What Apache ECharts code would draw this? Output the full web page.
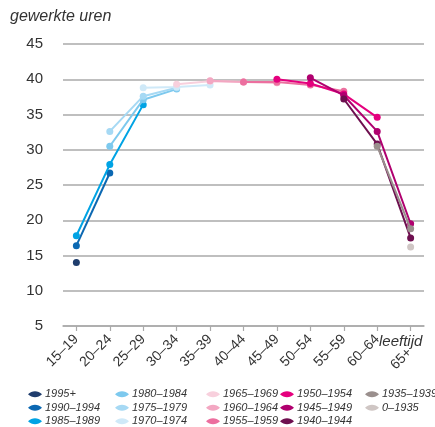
<!DOCTYPE html>
<html>
<head>
<meta charset="utf-8">
<script src="https://cdn.jsdelivr.net/npm/echarts@6/dist/echarts.min.js"></script>
<style>
  html, body { margin: 0; padding: 0; background: #fff; }
  #chart { width: 435px; height: 427px; }
</style>
</head>
<body>
<div id="chart"></div>
<script>
// leeftijdsklassen
const ageGroups = ['15–19', '20–24', '25–29', '30–34', '35–39', '40–44', '45–49', '50–54', '55–59', '60–64', '65+'];
const yTicks = [5, 10, 15, 20, 25, 30, 35, 40, 45];

// geboortecohorten, waarde per leeftijdsklasse (null = geen waarneming)
const cohortNames = ['1995+', '1990–1994', '1985–1989', '1980–1984', '1975–1979', '1970–1974',
  '1965–1969', '1960–1964', '1955–1959', '1950–1954', '1945–1949', '1940–1944', '1935–1939', '0–1935'];
const c1995 = [14.0, null, null, null, null, null, null, null, null, null, null];
const c1990 = [16.4, 26.7, null, null, null, null, null, null, null, null, null];
const c1985 = [17.8, 27.9, 36.4, null, null, null, null, null, null, null, null];
const c1980 = [null, 30.5, 37.1, 38.6, null, null, null, null, null, null, null];
const c1975 = [null, 32.6, 37.6, 38.8, null, null, null, null, null, null, null];
const c1970 = [null, null, 38.8, 38.9, 39.2, null, null, null, null, null, null];
const c1965 = [null, null, null, 39.3, 39.7, 39.6, null, null, null, null, null];
const c1960 = [null, null, null, null, 39.8, 39.6, 39.5, null, null, null, null];
const c1955 = [null, null, null, null, null, 39.6, 39.6, 39.2, 38.3, null, null];
const c1950 = [null, null, null, null, null, null, 40.0, 39.4, 37.9, 34.6, null];
const c1945 = [null, null, null, null, null, null, null, 40.2, 37.7, 32.6, 19.5];
const c1940 = [null, null, null, null, null, null, null, null, 37.2, 30.8, 17.5];
const c1935 = [null, null, null, null, null, null, null, null, null, 30.5, 18.8];
const c0000 = [null, null, null, null, null, null, null, null, null, null, 16.2];
const cohortValues = [c1995, c1990, c1985, c1980, c1975, c1970, c1965, c1960, c1955, c1950, c1945, c1940, c1935, c0000];

const colors = ['#1f3d6d', '#0b68b2', '#00a3e4', '#7dc9ee', '#a6d9f4', '#cfe9f8',
  '#f8d0dd', '#f3a7c2', '#ec6f9f', '#e5007e', '#b0006f', '#6e0f4f', '#9a8f8d', '#cfc6c4'];

const font = 'Liberation Sans, Arial, sans-serif';
const icon = 'path://M0,5 C4,1 10,1 14,5 C10,9 4,9 0,5 Z';

const series = cohortNames.map((name, k) => ({
  name: name,
  type: 'line',
  data: cohortValues[k].map((v, i) => v == null ? null : [i, v]).filter(d => d),
  symbol: 'circle',
  symbolSize: 7,
  color: colors[k],
  lineStyle: { width: 2, color: colors[k] },
  itemStyle: { color: colors[k] },
  emphasis: { disabled: true },
  z: 2 + k
}));

// legenda in 5 kolommen
const legendCols = [[0, 1, 2], [3, 4, 5], [6, 7, 8], [9, 10, 11], [12, 13]];
const legendLeft = [28, 115, 206, 280, 365];
const legends = legendCols.map((col, j) => ({
  orient: 'vertical',
  left: legendLeft[j],
  top: 388,
  height: 60,
  itemWidth: 14,
  itemHeight: 7,
  itemGap: 1,
  padding: 0,
  selectedMode: false,
  icon: icon,
  data: col.map(k => cohortNames[k]),
  textStyle: { fontFamily: font, fontStyle: 'italic', fontSize: 11, color: '#333', lineHeight: 12.5, padding: [0, 0, 0, -2] }
}));

const chart = echarts.init(document.getElementById('chart'));
chart.setOption({
  animation: false,
  backgroundColor: '#fff',
  grid: { left: 63, right: 11, top: 44, bottom: 101, containLabel: false },
  legend: legends,
  xAxis: {
    type: 'value',
    min: -0.4,
    max: 10.4,
    axisLine: { show: true, lineStyle: { color: '#aaa', width: 1.5 } },
    axisTick: { show: true, length: 5, lineStyle: { color: '#aaa', width: 1.2 }, customValues: ageGroups.map((_, i) => i) },
    splitLine: { show: false },
    axisLabel: {
      customValues: ageGroups.map((_, i) => i),
      formatter: v => {
        const i = Math.round(v);
        return i === ageGroups.length - 1 ? '{last|' + ageGroups[i] + '}' : ageGroups[i];
      },
      rotate: 45,
      margin: 11,
      fontFamily: font,
      fontSize: 14,
      color: '#333',
      rich: { last: { fontFamily: font, fontSize: 14, color: '#333', padding: [18, 10, 0, 0] } }
    }
  },
  yAxis: {
    type: 'value',
    min: 5,
    max: 45,
    interval: 5,
    axisLine: { show: false },
    axisTick: { show: false },
    splitLine: { lineStyle: { color: '#aaa', width: 1.5 } },
    axisLabel: { margin: 20, fontFamily: font, fontSize: 15, color: '#333' }
  },
  graphic: [
    { type: 'text', left: 379, top: 334, style: { text: 'leeftijd', font: 'italic 15px ' + font, fill: '#333' } },
    { type: 'text', left: 10, top: 9, style: { text: 'gewerkte uren', font: 'italic 16px ' + font, fill: '#333' } }
  ],
  series: series
});
</script>
</body>
</html>
